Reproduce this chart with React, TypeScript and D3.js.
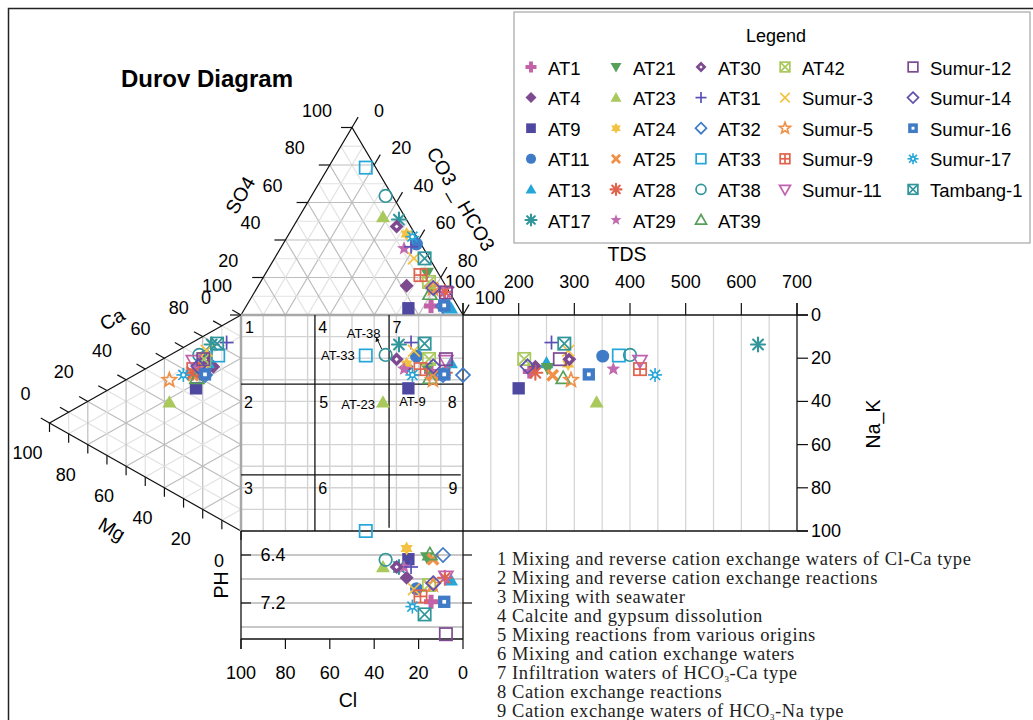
import React from "react";
import * as d3 from "d3";

// sample ids, in legend order
const sampleNames = [
  "AT1", "AT4", "AT9", "AT11", "AT13", "AT17",
  "AT21", "AT23", "AT24", "AT25", "AT28", "AT29",
  "AT30", "AT31", "AT32", "AT33", "AT38", "AT39",
  "AT42", "Sumur-3", "Sumur-5", "Sumur-9", "Sumur-11",
  "Sumur-12", "Sumur-14", "Sumur-16", "Sumur-17", "Tambang-1",
];

// anions, % meq (HCO3 = 100 - SO4 - Cl)
const so4 = [4.8, 15.6, 3.6, 37.9, 3.6, 50.9, 22.4, 52.3, 43.2, 14.4, 12.3, 35.5, 47.2, 36.4, 4.8, 78.6, 63.5, 11.2, 17.6, 30.2, 14.1, 21.3, 11.6, 12.0, 14.4, 5.1, 41.8, 30.2];
const cl = [12.0, 17.6, 22.8, 2.0, 3.6, 3.4, 5.0, 9.9, 3.8, 6.3, 2.0, 8.8, 6.3, 5.2, 6.6, 4.5, 3.1, 9.3, 6.5, 7.0, 6.5, 8.5, 1.9, 1.7, 6.2, 5.9, 1.9, 2.2];

// cations, % meq (Ca = 100 - Mg - NaK)
const mg = [21.4, 14.5, 23.5, 18.3, 17.2, 15.3, 21.4, 37.4, 18.8, 25.1, 25.1, 22.5, 18.8, 7.5, 18.8, 11.9, 21.8, 23.1, 19.3, 17.9, 37.4, 24.9, 24.9, 19.7, 22.3, 18.8, 30.1, 12.5];
const naK = [15.5, 16.7, 22.2, 9.9, 13.6, 6.0, 14.0, 21.7, 13.3, 15.3, 14.2, 13.8, 11.1, 9.0, 18.4, 12.8, 7.6, 17.7, 10.7, 7.6, 11.4, 12.6, 8.8, 10.6, 12.6, 18.1, 12.7, 7.0];

const tds = [220, 230, 200, 351, 250, 630, 252, 340, 289, 261, 230, 370, 291, 259, 100, 380, 400, 280, 210, 289, 294, 418, 418, 274, 216, 326, 445, 282];
const ph = [7.18, 6.78, 6.47, 6.96, 6.82, 6.6, 6.44, 6.6, 6.29, 6.47, 6.78, 6.6, 6.6, 6.6, 6.4, 6.0, 6.48, 6.39, 6.9, 6.97, 6.9, 7.09, 6.76, 7.72, 6.87, 7.18, 7.26, 7.39];

// marker styles per sample
const shapes = [
  "plusF", "diamondF", "squareF", "circleF", "triF", "asterisk",
  "triDownF", "triF", "star6F", "xThick", "asterisk", "star5F",
  "diamondDot", "plusThin", "diamondO", "squareO", "circleO", "triO",
  "squareX", "xThin", "star5O", "squarePlus", "triDownO",
  "squareO", "diamondO", "squareDot", "snow", "squareX",
];
const colors = [
  "#c462a8", "#7d4a90", "#4f48a0", "#3f7bc6", "#25a6d9", "#31969b",
  "#57a05a", "#a9c95d", "#f4c242", "#f0914a", "#e0634c", "#c16ab0",
  "#7d4a90", "#5a4fb5", "#3f7bc6", "#25a6d9", "#31969b", "#57a05a",
  "#a9c95d", "#f4c242", "#f0914a", "#e0634c", "#c060b0",
  "#7d4a90", "#6050b0", "#3f7bc6", "#25a6d9", "#31969b",
];

const triTicks = [0, 20, 40, 60, 80, 100];
const tdsTicks = [100, 200, 300, 400, 500, 600, 700];
const phTicks = [6.4, 7.2];
const phGrid = [6.4, 6.8, 7.2, 7.6];
const clDividers = [66.7, 33.3];
const naDividers = [32, 74];
const regionLabels = [
  { n: "1", cl: 96.2, na: 6 }, { n: "4", cl: 63.2, na: 6 }, { n: "7", cl: 29.7, na: 6 },
  { n: "2", cl: 96.6, na: 40.3 }, { n: "5", cl: 62.7, na: 40.3 }, { n: "8", cl: 4.9, na: 40.3 },
  { n: "3", cl: 96.6, na: 80.5 }, { n: "6", cl: 63.2, na: 80.5 }, { n: "9", cl: 4.5, na: 80.5 },
];
const notes = [
  "1 Mixing and reverse cation exchange waters of Cl-Ca type",
  "2 Mixing and reverse cation exchange reactions",
  "3 Mixing with seawater",
  "4 Calcite and gypsum dissolution",
  "5 Mixing reactions from various origins",
  "6 Mixing and cation exchange waters",
  "7 Infiltration waters of HCO3-Ca type",
  "8 Cation exchange reactions",
  "9 Cation exchange waters of HCO3-Na type",
];

const SANS = "'Liberation Sans', Arial, sans-serif";
const SERIF = "'Liberation Serif', 'Times New Roman', serif";

// scales
const clX = d3.scaleLinear().domain([100, 0]).range([241, 463]);
const so4Y = d3.scaleLinear().domain([0, 100]).range([315, 127.5]);
const mgX = d3.scaleLinear().domain([0, 100]).range([241, 49.5]);
const naY = d3.scaleLinear().domain([0, 100]).range([315, 531]);
const tdsX = d3.scaleLinear().domain([100, 700]).range([463, 797]);
const phY = d3.scaleLinear().domain([6.0, 7.8]).range([531, 639]);

const anion = (c: number, s: number): [number, number] => [clX(c + s / 2), so4Y(s)];
const cation = (m: number, n: number): [number, number] => [mgX(m), naY(n + m / 2)];

function starPath(n: number, R: number, ri: number) {
  const pts: string[] = [];
  for (let i = 0; i < n * 2; i++) {
    const a = -Math.PI / 2 + (i * Math.PI) / n;
    const rr = i % 2 === 0 ? R : ri;
    pts.push(`${(Math.cos(a) * rr).toFixed(2)},${(Math.sin(a) * rr).toFixed(2)}`);
  }
  return "M" + pts.join("L") + "Z";
}

function Marker({ shape, color, r }: { shape: string; color: string; r: number }) {
  const sw = 1.7;
  const q = r * 0.88;
  const open = { fill: "none", stroke: color, strokeWidth: sw };
  switch (shape) {
    case "plusF": {
      const w = r * 0.36;
      return <path d={`M${-w},${-r}H${w}V${-w}H${r}V${w}H${w}V${r}H${-w}V${w}H${-r}V${-w}H${-w}Z`} fill={color} />;
    }
    case "diamondF":
      return <path d={`M0,${-r}L${r},0L0,${r}L${-r},0Z`} fill={color} />;
    case "squareF":
      return <rect x={-q} y={-q} width={2 * q} height={2 * q} fill={color} />;
    case "circleF":
      return <circle r={r * 0.92} fill={color} />;
    case "triF":
      return <path d={`M0,${-r}L${r},${r * 0.75}L${-r},${r * 0.75}Z`} fill={color} />;
    case "triDownF":
      return <path d={`M0,${r}L${r},${-r * 0.75}L${-r},${-r * 0.75}Z`} fill={color} />;
    case "asterisk":
      return (
        <g stroke={color} strokeWidth={2.1} strokeLinecap="round">
          <line x1={0} y1={-r} x2={0} y2={r} />
          <line x1={-r} y1={0} x2={r} y2={0} />
          <line x1={-r * 0.7} y1={-r * 0.7} x2={r * 0.7} y2={r * 0.7} />
          <line x1={-r * 0.7} y1={r * 0.7} x2={r * 0.7} y2={-r * 0.7} />
        </g>
      );
    case "star6F":
      return (
        <g fill={color}>
          <path d={`M0,${-r}L${r * 0.87},${r * 0.5}L${-r * 0.87},${r * 0.5}Z`} />
          <path d={`M0,${r}L${r * 0.87},${-r * 0.5}L${-r * 0.87},${-r * 0.5}Z`} />
        </g>
      );
    case "xThick":
      return (
        <g stroke={color} strokeWidth={r * 0.5}>
          <line x1={-r * 0.75} y1={-r * 0.75} x2={r * 0.75} y2={r * 0.75} />
          <line x1={-r * 0.75} y1={r * 0.75} x2={r * 0.75} y2={-r * 0.75} />
        </g>
      );
    case "star5F":
      return <path d={starPath(5, r * 1.05, r * 0.45)} fill={color} />;
    case "star5O":
      return <path d={starPath(5, r * 1.05, r * 0.45)} {...open} />;
    case "diamondDot":
      return (
        <g>
          <path d={`M0,${-r}L${r},0L0,${r}L${-r},0Z`} fill={color} />
          <path d={`M0,${-r * 0.3}L${r * 0.3},0L0,${r * 0.3}L${-r * 0.3},0Z`} fill="#fff" />
        </g>
      );
    case "plusThin":
      return (
        <g stroke={color} strokeWidth={sw}>
          <line x1={0} y1={-r} x2={0} y2={r} />
          <line x1={-r} y1={0} x2={r} y2={0} />
        </g>
      );
    case "diamondO":
      return <path d={`M0,${-r}L${r},0L0,${r}L${-r},0Z`} {...open} />;
    case "squareO":
      return <rect x={-q} y={-q} width={2 * q} height={2 * q} {...open} />;
    case "circleO":
      return <circle r={r * 0.9} {...open} />;
    case "triO":
      return <path d={`M0,${-r}L${r},${r * 0.75}L${-r},${r * 0.75}Z`} {...open} />;
    case "triDownO":
      return <path d={`M0,${r}L${r},${-r * 0.75}L${-r},${-r * 0.75}Z`} {...open} />;
    case "squareX":
      return (
        <g {...open}>
          <rect x={-q} y={-q} width={2 * q} height={2 * q} />
          <line x1={-q} y1={-q} x2={q} y2={q} />
          <line x1={-q} y1={q} x2={q} y2={-q} />
        </g>
      );
    case "xThin":
      return (
        <g stroke={color} strokeWidth={sw}>
          <line x1={-r * 0.85} y1={-r * 0.85} x2={r * 0.85} y2={r * 0.85} />
          <line x1={-r * 0.85} y1={r * 0.85} x2={r * 0.85} y2={-r * 0.85} />
        </g>
      );
    case "squarePlus":
      return (
        <g {...open}>
          <rect x={-q} y={-q} width={2 * q} height={2 * q} />
          <line x1={0} y1={-q} x2={0} y2={q} />
          <line x1={-q} y1={0} x2={q} y2={0} />
        </g>
      );
    case "squareDot":
      return (
        <g>
          <rect x={-q} y={-q} width={2 * q} height={2 * q} fill={color} />
          <rect x={-q * 0.3} y={-q * 0.3} width={q * 0.6} height={q * 0.6} fill="#fff" />
        </g>
      );
    case "snow":
      return (
        <g stroke={color} strokeWidth={1.6}>
          <line x1={0} y1={-r} x2={0} y2={r} />
          <line x1={-r} y1={0} x2={r} y2={0} />
          <line x1={-r * 0.72} y1={-r * 0.72} x2={r * 0.72} y2={r * 0.72} />
          <line x1={-r * 0.72} y1={r * 0.72} x2={r * 0.72} y2={-r * 0.72} />
          <circle r={r * 0.35} fill="#fff" />
        </g>
      );
    default:
      return <circle r={r} fill={color} />;
  }
}

function NoteLine({ text, y }: { text: string; y: number }) {
  const parts = text.split("HCO3");
  if (parts.length === 1) return <text x={497} y={y}>{text}</text>;
  return (
    <text x={497} y={y}>
      {parts[0]}HCO<tspan fontSize={9} dy={3}>3</tspan>
      <tspan dy={-3}>{parts[1]}</tspan>
    </text>
  );
}

export default function App() {
  const grid10 = d3.range(10, 100, 10);
  const gridColor = (v: number) => (v % 20 === 0 ? "#bdbdbd" : "#e2e2e2");

  const samples = sampleNames.map((name, i) => {
    const xs = clX(cl[i] + so4[i] / 2);
    const ys = naY(naK[i] + mg[i] / 2);
    return {
      name,
      shape: shapes[i],
      color: colors[i],
      an: anion(cl[i], so4[i]),
      ca: cation(mg[i], naK[i]),
      sq: [xs, ys] as [number, number],
      td: [tdsX(tds[i]), ys] as [number, number],
      ph: [xs, phY(ph[i])] as [number, number],
    };
  });
  const byName = (n: string) => samples.find((s) => s.name === n)!;
  const at33 = byName("AT33").sq;
  const at23 = byName("AT23").sq;
  const at9 = byName("AT9").sq;
  const at38 = byName("AT38").sq;

  const line = (a: [number, number], b: [number, number], stroke: string, w = 1, key?: string) => (
    <line key={key} x1={a[0]} y1={a[1]} x2={b[0]} y2={b[1]} stroke={stroke} strokeWidth={w} />
  );

  const hcoDir = [0.509, -0.861];
  const caDir = [-0.871, -0.491];

  return (
    <svg width={1033} height={720} style={{ position: "absolute", left: 0, top: 0, background: "#fff" }} fontFamily={SANS}>
      {/* outer frame */}
      <path d="M8.5,720V8.5H1033" fill="none" stroke="#222" strokeWidth={1.5} />

      <text x={121} y={87} fontSize={24} fontWeight="bold">Durov Diagram</text>

      {/* anion triangle grid */}
      <g>
        {grid10.map((v) => (
          <g key={"a" + v}>
            {line(anion(100 - v, v), anion(0, v), gridColor(v), 1.2)}
            {line(anion(100 - v, 0), anion(0, 100 - v), gridColor(v), 1.2)}
            {line(anion(v, 0), anion(v, 100 - v), gridColor(v), 1.2)}
          </g>
        ))}
      </g>
      {/* cation triangle grid */}
      <g>
        {grid10.map((v) => (
          <g key={"c" + v}>
            {line(cation(v, 0), cation(v, 100 - v), gridColor(v), 1.2)}
            {line(cation(0, v), cation(100 - v, v), gridColor(v), 1.2)}
            {line(cation(100 - v, 0), cation(0, 100 - v), gridColor(v), 1.2)}
          </g>
        ))}
      </g>
      {/* square grid */}
      <g>
        {grid10.map((v) => (
          <g key={"s" + v}>
            {line([clX(v), naY(0)], [clX(v), naY(100)], "#d3d3d3", 1.4)}
            {line([clX(0), naY(v)], [clX(100), naY(v)], "#d3d3d3", 1.4)}
          </g>
        ))}
      </g>
      {/* TDS grid */}
      <g>
        {d3.range(150, 700, 50).map((v) => (
          <line key={"t" + v} x1={tdsX(v)} x2={tdsX(v)} y1={naY(0)} y2={naY(100)} stroke="#d3d3d3" strokeWidth={1.2} />
        ))}
      </g>
      {/* pH grid */}
      <g>
        {phGrid.map((v) => (
          <line key={"p" + v} x1={clX(100)} x2={clX(0)} y1={phY(v)} y2={phY(v)} stroke="#c8c8c8" strokeWidth={2} />
        ))}
      </g>

      {/* triangle edges */}
      <path d={`M${anion(100, 0)}L${anion(0, 100)}L${anion(0, 0)}`} fill="none" stroke="#111" strokeWidth={1.2} />
      <path d={`M${cation(0, 0)}L${cation(100, 0)}L${cation(0, 100)}`} fill="none" stroke="#111" strokeWidth={1.2} />

      {/* square frame */}
      <line x1={clX(100)} x2={clX(0)} y1={naY(0)} y2={naY(0)} stroke="#a8a8a8" strokeWidth={2.5} />
      <line x1={clX(100)} x2={clX(100)} y1={naY(0)} y2={naY(100)} stroke="#a8a8a8" strokeWidth={2.5} />
      <line x1={clX(0)} x2={clX(0)} y1={303} y2={phY(7.8)} stroke="#111" strokeWidth={1.3} />
      <line x1={clX(100)} x2={808} y1={naY(100)} y2={naY(100)} stroke="#111" strokeWidth={1.3} />
      {/* TDS frame */}
      <line x1={clX(0)} x2={808} y1={naY(0)} y2={naY(0)} stroke="#111" strokeWidth={1.3} />
      <line x1={tdsX(700)} x2={tdsX(700)} y1={303} y2={naY(100)} stroke="#111" strokeWidth={1.3} />
      {/* pH frame */}
      <line x1={clX(100)} x2={clX(100)} y1={naY(100)} y2={649} stroke="#111" strokeWidth={1.3} />
      <line x1={clX(100)} x2={clX(0)} y1={phY(7.8)} y2={phY(7.8)} stroke="#111" strokeWidth={1.3} />

      {/* Durov region dividers */}
      {line([clX(clDividers[0]), naY(0)], [clX(clDividers[0]), naY(100)], "#111", 1.3)}
      {line([clX(clDividers[1]), naY(0)], [clX(clDividers[1]), naY(98.5)], "#111", 1.3)}
      {line([clX(100), naY(naDividers[0])], [clX(0), naY(naDividers[0])], "#111", 1.3)}
      {line([clX(100), naY(naDividers[1])], [clX(1), naY(naDividers[1])], "#111", 1.3)}
      <g fontSize={16} textAnchor="middle" dominantBaseline="central">
        {regionLabels.map((r) => (
          <text key={r.n} x={clX(r.cl)} y={naY(r.na)}>{r.n}</text>
        ))}
      </g>

      {/* triangle ticks and labels */}
      <g fontSize={18} textAnchor="middle" dominantBaseline="central">
        {triTicks.map((v) => {
          const p = anion(100 - v, v);
          return (
            <g key={"so" + v}>
              {line(p, [p[0] - 11, p[1]], "#111", 1.2)}
              <text x={p[0] - 35} y={p[1] - 17}>{v}</text>
            </g>
          );
        })}
        {triTicks.map((v) => {
          const p = anion(0, 100 - v);
          return (
            <g key={"hc" + v}>
              {line(p, [p[0] + hcoDir[0] * 12, p[1] + hcoDir[1] * 12], "#111", 1.2)}
              <text x={p[0] + 27} y={p[1] - 17}>{v}</text>
            </g>
          );
        })}
        {d3.range(0, 101, 10).map((v) => {
          const p = cation(100 - v, 0);
          return (
            <g key={"ca" + v}>
              {line(p, [p[0] + caDir[0] * 10, p[1] + caDir[1] * 10], "#111", 1.2)}
              {v % 20 === 0 && <text x={p[0] - 24} y={p[1] - 29}>{v}</text>}
            </g>
          );
        })}
        {d3.range(0, 101, 10).map((v) => {
          const p = cation(v, 100 - v);
          return (
            <g key={"mg" + v}>
              {line(p, [p[0], p[1] + 9], "#111", 1.2)}
              {v % 20 === 0 && <text x={p[0] - 22} y={p[1] + 30}>{v}</text>}
            </g>
          );
        })}
        {/* TDS axis */}
        {tdsTicks.map((v) => (
          <g key={"td" + v}>
            {line([tdsX(v), naY(0)], [tdsX(v), 303], "#111", 1.2)}
            <text x={tdsX(v) - (v === 100 ? 3 : 0)} y={282}>{v}</text>
          </g>
        ))}
        {/* Na_K axis */}
        {triTicks.map((v) => (
          <g key={"nk" + v}>
            {line([tdsX(700), naY(v)], [808, naY(v)], "#111", 1.2)}
            <text x={811} y={naY(v)} textAnchor="start">{v}</text>
          </g>
        ))}
        {/* Cl axis */}
        {triTicks.map((v) => (
          <g key={"cl" + v}>
            {line([clX(v), phY(7.8)], [clX(v), 649], "#111", 1.2)}
            <text x={clX(v)} y={673}>{v}</text>
          </g>
        ))}
        {/* pH axis */}
        {phTicks.map((v) => (
          <g key={"ph" + v}>
            {line([clX(100), phY(v)], [clX(100) + 10, phY(v)], "#111", 1.2)}
            {line([clX(0), phY(v)], [clX(0) + 9, phY(v)], "#111", 1.2)}
            <text x={273} y={phY(v)}>{v.toFixed(1)}</text>
          </g>
        ))}
      </g>

      {/* axis titles */}
      <g fontSize={19.5} textAnchor="middle" dominantBaseline="central">
        <text transform="translate(240,195) rotate(-60)">SO4</text>
        <text transform="translate(461,199) rotate(60)">CO3 _ HCO3</text>
        <text transform="translate(112,319) rotate(-30)">Ca</text>
        <text transform="translate(112,529) rotate(30)">Mg</text>
        <text x={627} y={254}>TDS</text>
        <text transform="translate(873,424) rotate(-90)">Na_K</text>
        <text transform="translate(221,585) rotate(-90)">PH</text>
        <text x={348} y={700}>Cl</text>
      </g>

      {/* data markers */}
      {(["an", "ca", "sq", "td", "ph"] as const).map((k) => (
        <g key={k}>
          {samples.map((s) => (
            <g key={s.name} transform={`translate(${s[k][0]},${s[k][1]})`}>
              <Marker shape={s.shape} color={s.color} r={7} />
            </g>
          ))}
        </g>
      ))}

      {/* sample annotations */}
      <g fontSize={13} dominantBaseline="central">
        <text x={at33[0] - 11} y={at33[1]} textAnchor="end">AT-33</text>
        <text x={at23[0] - 8} y={at23[1] + 2} textAnchor="end">AT-23</text>
        <text x={at9[0] + 4} y={at9[1] + 13} textAnchor="middle">AT-9</text>
        <text x={at38[0] - 22} y={at38[1] - 21} textAnchor="middle">AT-38</text>
        <line x1={at38[0] - 4} y1={at38[1] - 6} x2={at38[0] - 8.5} y2={at38[1] - 16} stroke="#111" strokeWidth={1} />
        <path d={`M${at38[0] - 9.5},${at38[1] - 18}l-0.6,5.2l4,-1.8Z`} fill="#111" />
      </g>

      {/* legend */}
      <rect x={514} y={12} width={516} height={231} fill="#fff" stroke="#a6a6a6" strokeWidth={1.2} />
      <text x={776} y={42} fontSize={18} textAnchor="middle">Legend</text>
      <g fontSize={18.5} dominantBaseline="central">
        {samples.map((s, i) => {
          const col = i < 18 ? Math.floor(i / 6) : 3 + Math.floor((i - 18) / 5);
          const row = i < 18 ? i % 6 : (i - 18) % 5;
          const mx = [531, 616, 701, 785, 913][col];
          const my = 67 + row * 30.6;
          return (
            <g key={s.name}>
              <g transform={`translate(${mx},${my})`}>
                <Marker shape={s.shape} color={s.color} r={5.5} />
              </g>
              <text x={mx + 17} y={my + 1}>{s.name}</text>
            </g>
          );
        })}
      </g>

      {/* notes */}
      <g fontFamily={SERIF} fontSize={18.5} letterSpacing={0.6} fill="#222">
        {notes.map((t, i) => (
          <NoteLine key={i} text={t} y={565 + i * 19} />
        ))}
      </g>
    </svg>
  );
}
